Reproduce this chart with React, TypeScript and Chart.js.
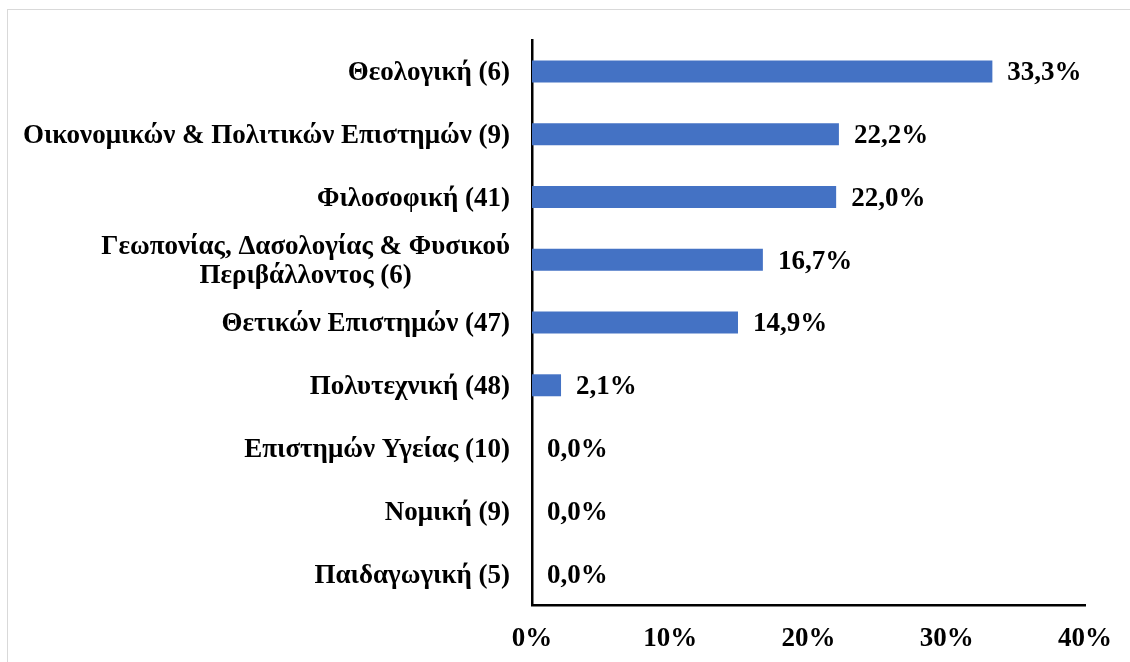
import React, { useEffect, useRef } from "react";
import { Chart, registerables } from "chart.js";

Chart.register(...registerables);

const categories: (string | string[])[] = [
  "Θεολογική (6)",
  "Οικονομικών & Πολιτικών Επιστημών (9)",
  "Φιλοσοφική (41)",
  ["Γεωπονίας, Δασολογίας & Φυσικού", "Περιβάλλοντος (6)"],
  "Θετικών Επιστημών (47)",
  "Πολυτεχνική (48)",
  "Επιστημών Υγείας (10)",
  "Νομική (9)",
  "Παιδαγωγική (5)",
];
const values = [33.3, 22.2, 22.0, 16.7, 14.9, 2.1, 0.0, 0.0, 0.0];
const xTickValues = [0, 10, 20, 30, 40];

const FONT_FAMILY = '"Liberation Serif", "Times New Roman", serif';
const FONT_SIZE = 27;
const BAR_COLOR = "#4472C4";

const fmtPct = (v: number) => v.toFixed(1).replace(".", ",") + "%";

const labelsPlugin = {
  id: "customLabels",
  afterDraw(chart: any) {
    const ctx = chart.ctx;
    const yScale = chart.scales.y;
    const xScale = chart.scales.x;
    ctx.save();
    ctx.font = `bold ${FONT_SIZE}px ${FONT_FAMILY}`;
    ctx.fillStyle = "#000";
    ctx.textBaseline = "middle";
    // category labels
    const rightX = xScale.left - 22;
    const lineH = 29;
    categories.forEach((lab, i) => {
      const cy = yScale.getPixelForValue(i) + 2;
      const lines = Array.isArray(lab) ? lab : [lab];
      const widths = lines.map((l) => ctx.measureText(l).width);
      const widest = Math.max(...widths);
      const center = rightX - widest / 2;
      ctx.textAlign = "center";
      lines.forEach((l, j) => {
        const y = cy + (j - (lines.length - 1) / 2) * lineH;
        ctx.fillText(l, center, y);
      });
    });
    // value labels
    const meta = chart.getDatasetMeta(0);
    ctx.textAlign = "left";
    meta.data.forEach((bar: any, i: number) => {
      ctx.fillText(fmtPct(values[i]), bar.x + 15, bar.y + 2);
    });
    ctx.restore();
  },
};

export default function App() {
  const ref = useRef<HTMLCanvasElement>(null);
  useEffect(() => {
    if (!ref.current) return;
    const chart = new Chart(ref.current, {
      type: "bar",
      data: {
        labels: categories as any,
        datasets: [
          {
            data: values,
            backgroundColor: BAR_COLOR,
            borderWidth: 0,
            barPercentage: 0.35,
            categoryPercentage: 1,
          },
        ],
      },
      options: {
        indexAxis: "y",
        responsive: false,
        animation: false,
        layout: { padding: { left: 532, right: 44, top: 40, bottom: 0 } },
        plugins: {
          legend: { display: false },
          tooltip: { enabled: false },
          title: { display: false },
        },
        scales: {
          x: {
            type: "linear",
            min: 0,
            max: 40,
            afterBuildTicks: (scale: any) => {
              scale.ticks = xTickValues.map((v) => ({ value: v }));
            },
            afterFit: (scale: any) => {
              scale.height = 57;
            },
            grid: { display: false, drawTicks: false },
            border: { display: true, color: "#000", width: 2.5 },
            ticks: {
              padding: 18,
              color: "#000",
              font: { family: FONT_FAMILY, size: FONT_SIZE, weight: "bold" },
              callback: (v: any) => `${v}%`,
              maxRotation: 0,
            },
          },
          y: {
            type: "category",
            afterFit: (scale: any) => {
              scale.width = 0;
            },
            grid: { display: false, drawTicks: false },
            border: { display: true, color: "#000", width: 2.5 },
            ticks: { display: false },
          },
        },
      },
      plugins: [labelsPlugin],
    });
    return () => chart.destroy();
  }, []);

  return (
    <div
      style={{
        position: "fixed",
        left: 0,
        top: 0,
        width: 1130,
        height: 662,
        overflow: "hidden",
        background: "#fff",
      }}
    >
      <div
        style={{
          position: "absolute",
          left: 7,
          top: 9,
          width: 2000,
          height: 2000,
          border: "1.5px solid #d9d9d9",
          boxSizing: "border-box",
        }}
      />
      <canvas
        ref={ref}
        width={1130}
        height={662}
        style={{ position: "absolute", left: 0, top: 0, width: 1130, height: 662 }}
      />
    </div>
  );
}
